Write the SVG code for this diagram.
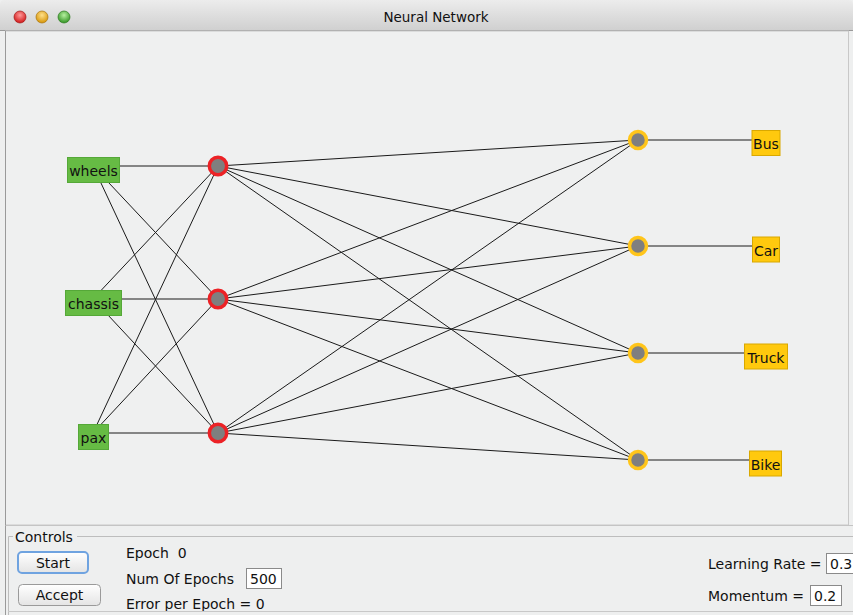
<svg xmlns="http://www.w3.org/2000/svg" width="853" height="615" viewBox="0 0 853 615">
<defs>
<linearGradient id="tb" x1="0" y1="0" x2="0" y2="1">
<stop offset="0" stop-color="#ececec"/>
<stop offset="1" stop-color="#d0d0d0"/>
</linearGradient>
<radialGradient id="lr" cx="0.5" cy="0.35" r="0.6"><stop offset="0" stop-color="#ff9a9a"/><stop offset="1" stop-color="#d42020"/></radialGradient>
<radialGradient id="ly" cx="0.5" cy="0.35" r="0.6"><stop offset="0" stop-color="#ffe08a"/><stop offset="1" stop-color="#d99a10"/></radialGradient>
<radialGradient id="lg" cx="0.5" cy="0.35" r="0.6"><stop offset="0" stop-color="#b6f0a0"/><stop offset="1" stop-color="#3c9a2c"/></radialGradient>
<linearGradient id="btn" x1="0" y1="0" x2="0" y2="1">
<stop offset="0" stop-color="#ffffff"/>
<stop offset="1" stop-color="#e4e4e4"/>
</linearGradient>
</defs>
<style>
text{font-family:"DejaVu Sans","Liberation Sans",sans-serif;fill:#111}
.lbl{font-size:14px}
.ui{font-size:14px}
.edge{stroke:#1a1a1a;stroke-width:1;fill:none}
.inbox{fill:#66bb44;stroke:#55a838;stroke-width:1}
.outbox{fill:#ffc90e;stroke:#d9a800;stroke-width:1}
.hid{fill:#7f7f7f;stroke:#ec2226;stroke-width:3.5}
.out{fill:#7f7f7f;stroke:#ffc51a;stroke-width:3.5}
.field{fill:#ffffff;stroke:#8a8a8a;stroke-width:1}
</style>
<rect x="0" y="0" width="853" height="615" fill="#eeefef"/>
<path d="M0,30 V5 Q0,0 5,0 H848 Q853,0 853,5 V30 Z" fill="url(#tb)"/>
<line x1="0" y1="30.5" x2="853" y2="30.5" stroke="#9a9a9a"/>
<circle cx="20" cy="17" r="6" fill="url(#lr)" stroke="#a01818" stroke-width="0.7"/>
<circle cx="42" cy="17" r="6" fill="url(#ly)" stroke="#a87410" stroke-width="0.7"/>
<circle cx="64" cy="17" r="6" fill="url(#lg)" stroke="#2c7a20" stroke-width="0.7"/>
<text x="436" y="22" text-anchor="middle" style="font-size:13.5px">Neural Network</text>
<rect x="5.5" y="31" width="843" height="494" fill="#eff0f0" stroke="#c8c8c8"/>
<line x1="5.5" y1="31" x2="5.5" y2="615" stroke="#9a9a9a"/>
<line x1="5.5" y1="525.5" x2="853" y2="525.5" stroke="#c4c4c4"/>
<g id="connectors">
<line class="edge" x1="93" y1="166" x2="218" y2="166"/>
<line class="edge" x1="93" y1="166" x2="218" y2="299"/>
<line class="edge" x1="93" y1="166" x2="218" y2="433"/>
<line class="edge" x1="93" y1="299" x2="218" y2="166"/>
<line class="edge" x1="93" y1="299" x2="218" y2="299"/>
<line class="edge" x1="93" y1="299" x2="218" y2="433"/>
<line class="edge" x1="93" y1="433" x2="218" y2="166"/>
<line class="edge" x1="93" y1="433" x2="218" y2="299"/>
<line class="edge" x1="93" y1="433" x2="218" y2="433"/>
<line class="edge" x1="218" y1="166" x2="638" y2="140"/>
<line class="edge" x1="218" y1="166" x2="638" y2="246"/>
<line class="edge" x1="218" y1="166" x2="638" y2="353"/>
<line class="edge" x1="218" y1="166" x2="638" y2="460"/>
<line class="edge" x1="218" y1="299" x2="638" y2="140"/>
<line class="edge" x1="218" y1="299" x2="638" y2="246"/>
<line class="edge" x1="218" y1="299" x2="638" y2="353"/>
<line class="edge" x1="218" y1="299" x2="638" y2="460"/>
<line class="edge" x1="218" y1="433" x2="638" y2="140"/>
<line class="edge" x1="218" y1="433" x2="638" y2="246"/>
<line class="edge" x1="218" y1="433" x2="638" y2="353"/>
<line class="edge" x1="218" y1="433" x2="638" y2="460"/>
<line class="edge" x1="638" y1="140" x2="752" y2="140"/>
<line class="edge" x1="638" y1="246" x2="752" y2="246"/>
<line class="edge" x1="638" y1="353" x2="744" y2="353"/>
<line class="edge" x1="638" y1="460" x2="749" y2="460"/>
</g>
<g id="in-wheels"><rect class="inbox" x="67.5" y="157.5" width="52" height="25"/><text class="lbl" x="93.5" y="176" text-anchor="middle">wheels</text></g>
<g id="in-chassis"><rect class="inbox" x="65.5" y="290.5" width="56" height="25"/><text class="lbl" x="93.5" y="309" text-anchor="middle">chassis</text></g>
<g id="in-pax"><rect class="inbox" x="78.5" y="424.5" width="30" height="25"/><text class="lbl" x="93.5" y="443" text-anchor="middle">pax</text></g>
<g id="h1"><circle class="hid" cx="218" cy="166" r="8.7"/></g>
<g id="h2"><circle class="hid" cx="218" cy="299" r="8.7"/></g>
<g id="h3"><circle class="hid" cx="218" cy="433" r="8.7"/></g>
<g id="o1"><circle class="out" cx="638" cy="140" r="8.5"/></g>
<g id="o2"><circle class="out" cx="638" cy="246" r="8.5"/></g>
<g id="o3"><circle class="out" cx="638" cy="353" r="8.5"/></g>
<g id="o4"><circle class="out" cx="638" cy="460" r="8.5"/></g>
<g id="out-bus"><rect class="outbox" x="752" y="130.5" width="28" height="25"/><text class="lbl" x="766" y="149" text-anchor="middle">Bus</text></g>
<g id="out-car"><rect class="outbox" x="752.5" y="237" width="27" height="25"/><text class="lbl" x="766" y="255.5" text-anchor="middle">Car</text></g>
<g id="out-truck"><rect class="outbox" x="744.5" y="344" width="43" height="25"/><text class="lbl" x="766" y="362.5" text-anchor="middle">Truck</text></g>
<g id="out-bike"><rect class="outbox" x="749.5" y="451" width="32" height="25"/><text class="lbl" x="765.5" y="469.5" text-anchor="middle">Bike</text></g>
<g id="controls">
<path d="M8.5,615 V536.5 H13 M77,536.5 H853" fill="none" stroke="#bdbdbd"/>
<text class="ui" x="15" y="542">Controls</text>
<rect x="18" y="552" width="70" height="21" rx="4" fill="url(#btn)" stroke="#6fa3e0" stroke-width="2"/>
<text class="ui" x="53" y="567.5" text-anchor="middle">Start</text>
<rect x="18.5" y="584.5" width="82" height="21" rx="4" fill="url(#btn)" stroke="#9a9a9a"/>
<text class="ui" x="59.5" y="600" text-anchor="middle">Accept</text>
<text class="ui" x="126" y="558" xml:space="preserve">Epoch  0</text>
<text class="ui" x="126" y="584">Num Of Epochs</text>
<rect class="field" x="246.5" y="568.5" width="35" height="20"/>
<text class="ui" x="250" y="583.5">500</text>
<text class="ui" x="126" y="609">Error per Epoch = 0</text>
<text class="ui" x="708" y="569">Learning Rate =</text>
<rect class="field" x="826.5" y="553.5" width="30" height="20"/>
<text class="ui" x="830" y="568.5">0.3</text>
<text class="ui" x="708" y="601">Momentum =</text>
<rect class="field" x="810.5" y="585.5" width="31" height="20"/>
<text class="ui" x="814" y="600.5">0.2</text>
<line x1="8" y1="611.5" x2="853" y2="611.5" stroke="#c8c8c8"/>
</g>
</svg>
